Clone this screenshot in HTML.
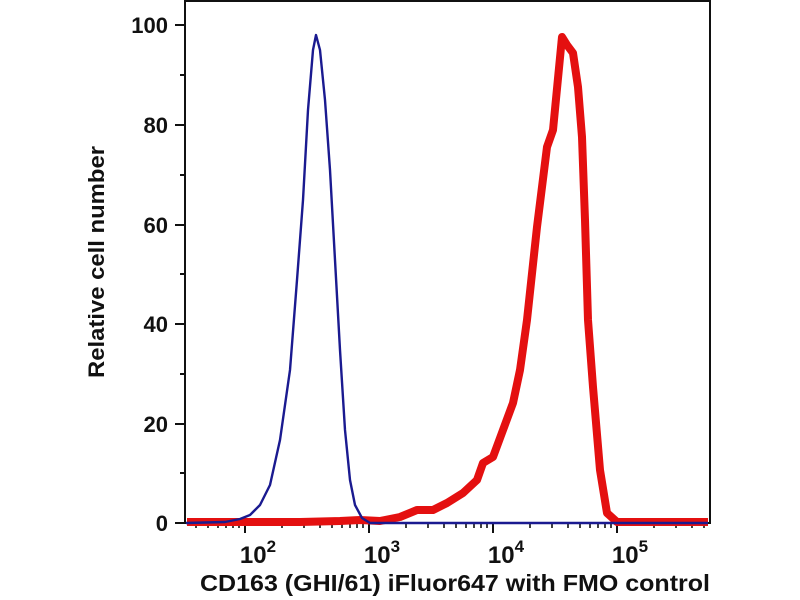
<!DOCTYPE html>
<html><head><meta charset="utf-8"><style>
html,body{margin:0;padding:0;background:#fff;width:800px;height:600px;overflow:hidden}
text{font-family:"Liberation Sans",Arial,sans-serif;font-weight:bold;fill:#111}
</style></head><body>
<svg width="800" height="600" viewBox="0 0 800 600" xmlns="http://www.w3.org/2000/svg">
<rect x="185" y="1" width="525" height="522" fill="none" stroke="#111" stroke-width="2"/>
<g stroke="#111" stroke-width="2">
<line x1="175" y1="523" x2="185" y2="523"/><line x1="175" y1="424" x2="185" y2="424"/>
<line x1="175" y1="324" x2="185" y2="324"/><line x1="175" y1="225" x2="185" y2="225"/>
<line x1="175" y1="125" x2="185" y2="125"/><line x1="175" y1="25" x2="185" y2="25"/>
<line x1="180" y1="473" x2="185" y2="473"/><line x1="180" y1="374" x2="185" y2="374"/>
<line x1="180" y1="274" x2="185" y2="274"/><line x1="180" y1="175" x2="185" y2="175"/>
<line x1="180" y1="75" x2="185" y2="75"/>
</g>
<g stroke="#111" stroke-width="2">
<line x1="245" y1="523" x2="245" y2="533"/><line x1="369" y1="523" x2="369" y2="533"/>
<line x1="493" y1="523" x2="493" y2="533"/><line x1="617" y1="523" x2="617" y2="533"/>
</g>
<path stroke="#111" stroke-width="1.6" d="M196 523v5M208 523v5M218 523v5M226 523v5M233 523v5M239 523v5M282 523v5M304 523v5M320 523v5M332 523v5M342 523v5M350 523v5M357 523v5M363 523v5M406 523v5M428 523v5M444 523v5M456 523v5M466 523v5M474 523v5M481 523v5M487 523v5M530 523v5M552 523v5M568 523v5M580 523v5M590 523v5M598 523v5M605 523v5M611 523v5M654 523v5M676 523v5M692 523v5M704 523v5"/>
<g font-size="22" text-anchor="end">
<text x="168" y="531">0</text><text x="168" y="432">20</text><text x="168" y="332">40</text>
<text x="168" y="233">60</text><text x="168" y="133">80</text><text x="168" y="33">100</text>
</g>
<g font-size="24" text-anchor="middle">
<text x="258" y="563">10<tspan font-size="17" dy="-11">2</tspan></text>
<text x="382" y="563">10<tspan font-size="17" dy="-11">3</tspan></text>
<text x="506" y="563">10<tspan font-size="17" dy="-11">4</tspan></text>
<text x="630" y="563">10<tspan font-size="17" dy="-11">5</tspan></text>
</g>
<text x="455" y="591" font-size="23" text-anchor="middle" textLength="510" lengthAdjust="spacingAndGlyphs">CD163 (GHI/61) iFluor647 with FMO control</text>
<text transform="translate(104,262) rotate(-90)" font-size="22" text-anchor="middle" textLength="232" lengthAdjust="spacingAndGlyphs">Relative cell number</text>
<polyline fill="none" stroke="#e41010" stroke-width="8" stroke-linejoin="round" points="187,522 300,522 340,521 360,520 380,521 400,517 417,510 433,510 447,503 463,493 477,480 483,463 493,457 503,430 513,403 520,370 527,320 537,227 547,147 553,130 562,37 567,45 573,53 578,87 582,137 585,220 588,320 593,387 600,470 607,513 617,522 708,522"/>
<polyline fill="none" stroke="#1a1a90" stroke-width="2.4" stroke-linejoin="round" points="186,523 225,522 240,519 250,515 260,505 270,485 280,440 290,370 297,280 303,200 308,110 313,50 316,35 320,50 325,100 330,170 335,260 340,350 345,430 350,480 355,505 362,518 370,523 708,523"/>
</svg>
</body></html>
